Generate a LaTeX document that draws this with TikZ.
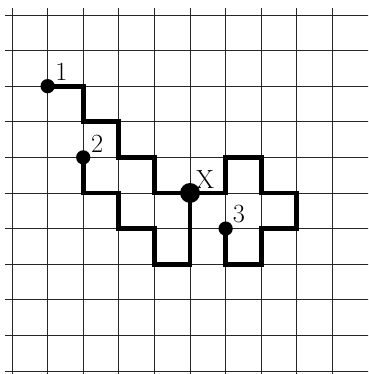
\documentclass[tikz,border=0pt]{standalone}
\usetikzlibrary{calc}
\begin{document}
\begin{tikzpicture}[
  gridline/.style={line width=0.7pt, black!85},
  walk/.style={line width=3.9pt, black, line join=miter},
  dot/.style={circle, fill=black, inner sep=0pt, minimum size=0.4cm},
  bigdot/.style={circle, fill=black, inner sep=0pt, minimum size=0.56cm},
  lab/.style={font=\fontsize{21}{24}\selectfont, inner sep=0pt}
]
\useasboundingbox (-0.337,-0.084) rectangle (10.0,10.42);
\clip (-0.337,-0.084) rectangle (10.0,10.42);
% grid
\foreach \i in {0,...,9} \draw[gridline] (\i,-0.3) -- (\i,10.2);
\foreach \j in {0,...,10} \draw[gridline] (-0.2,\j) -- (10.3,\j);
% points
\coordinate (p1) at (1,8);
\coordinate (p2) at (2,6);
\coordinate (px) at (5,5);
\coordinate (p3) at (6,4);
% walks
\draw[walk] (p1) -- (2,8) -- (2,7) -- (3,7) -- (3,6) -- (4,6) -- (4,5) -- (px);
\draw[walk] (p2) -- (2,5) -- (3,5) -- (3,4) -- (4,4) -- (4,3) -- (5,3) -- (px);
\draw[walk] (px) -- (6,5) -- (6,6) -- (7,6) -- (7,5) -- (8,5) -- (8,4) -- (7,4) -- (7,3) -- (6,3) -- (p3);
% dots
\node[dot] (d1) at (p1) {};
\node[dot] (d2) at (p2) {};
\node[bigdot] (dx) at (px) {};
\node[dot] (d3) at (p3) {};
% labels
\node[lab] (l1) at ($(p1)+(0.39,0.39)$) {1};
\node[lab] (l2) at ($(p2)+(0.39,0.39)$) {2};
\node[lab] (lx) at ($(px)+(0.42,0.37)$) {X};
\node[lab] (l3) at ($(p3)+(0.37,0.42)$) {3};
\end{tikzpicture}
\end{document}
